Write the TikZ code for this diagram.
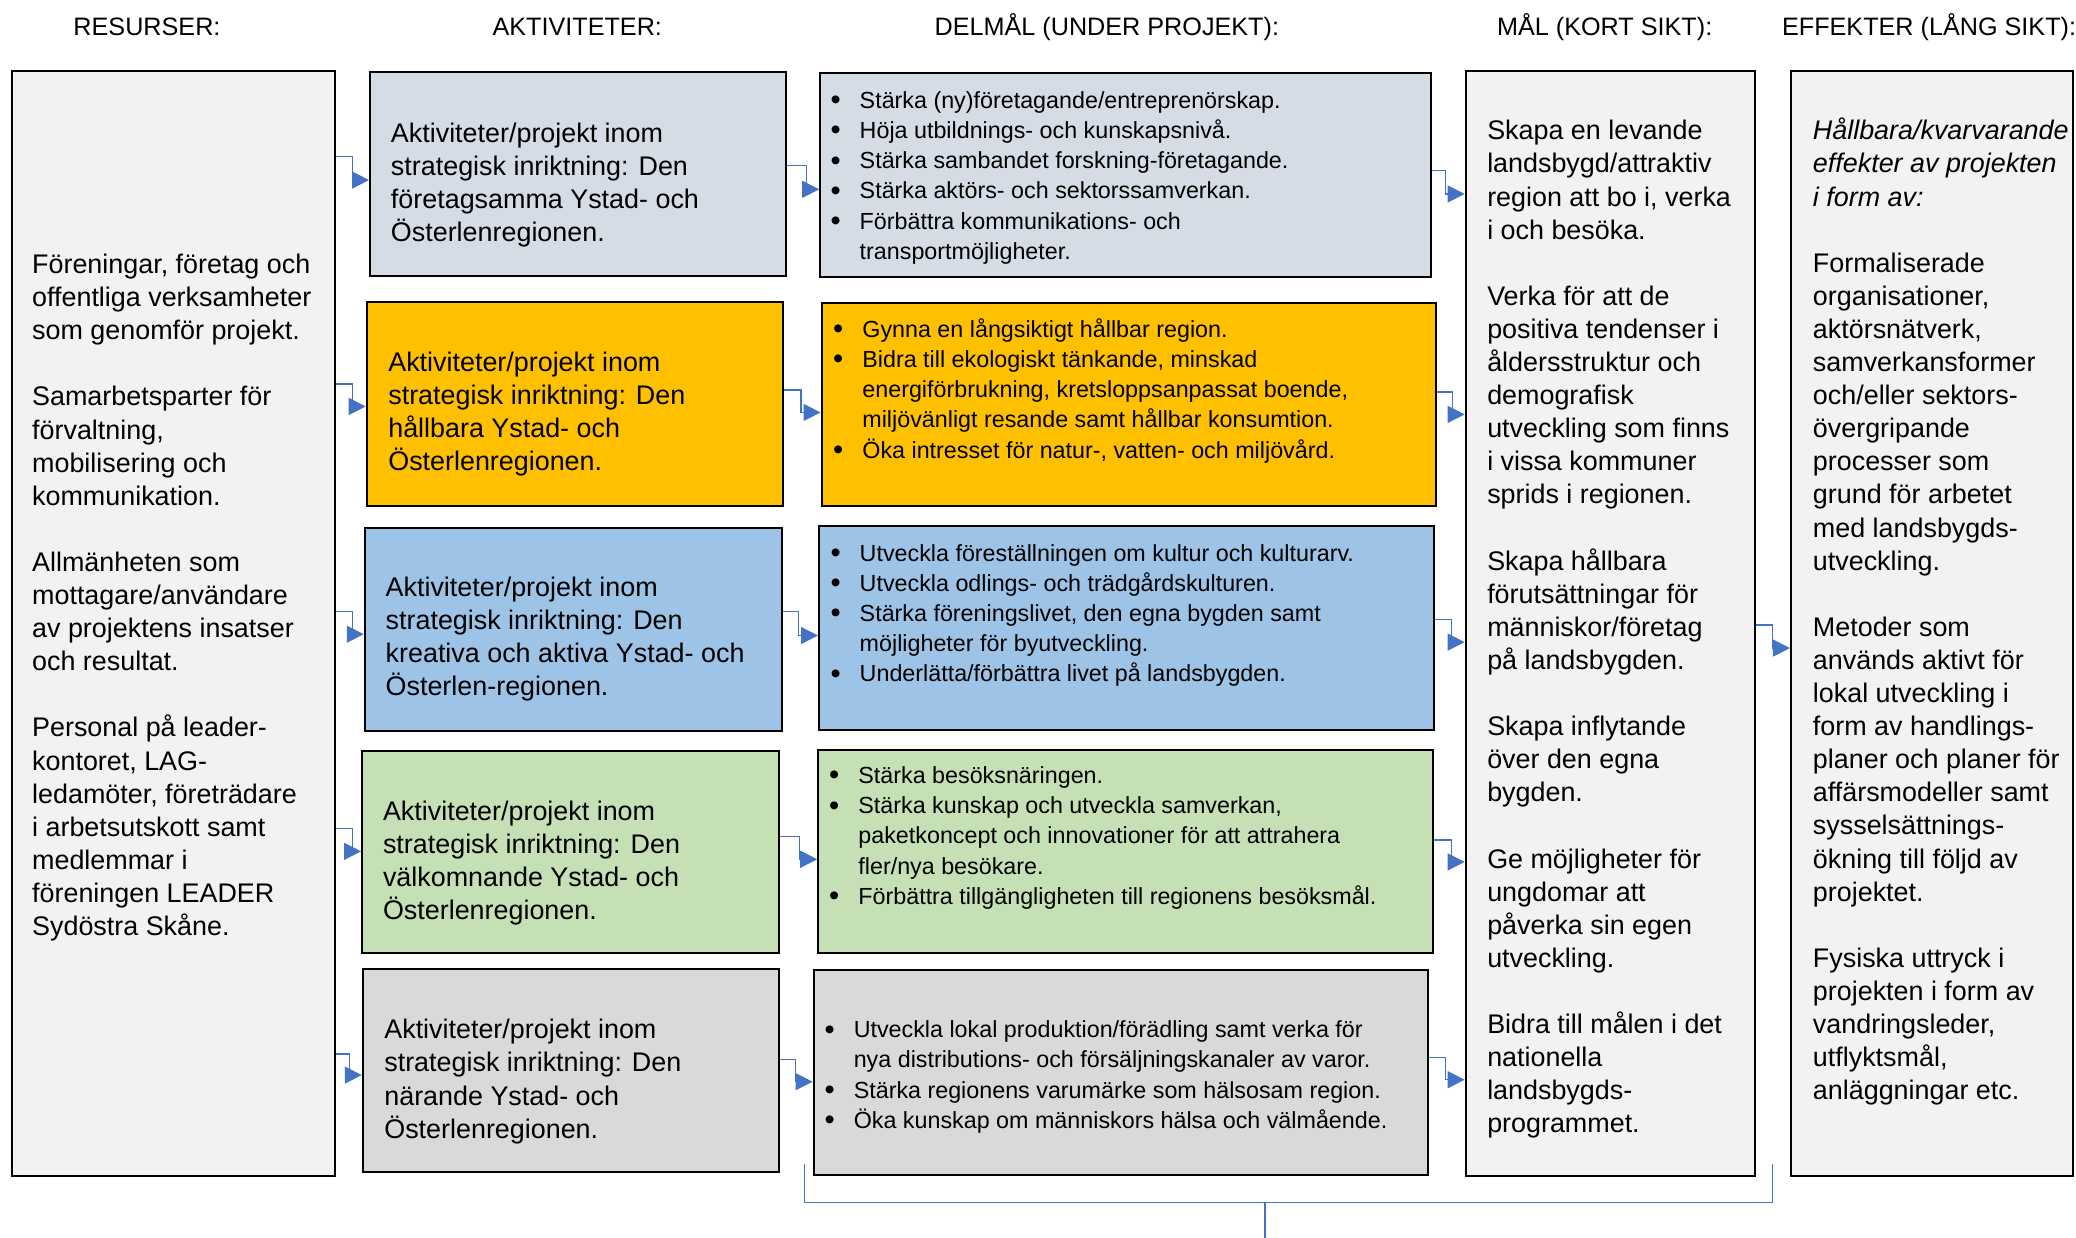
\documentclass[tikz,border=0pt]{standalone}
\usepackage{fontspec}
\setmainfont{Liberation Sans}
\usetikzlibrary{arrows.meta,fit}
\definecolor{boxgray}{HTML}{F2F2F2}
\definecolor{rowa}{HTML}{D6DCE5}
\definecolor{rowb}{HTML}{FFC000}
\definecolor{rowc}{HTML}{9DC3E6}
\definecolor{rowd}{HTML}{C5E0B4}
\definecolor{rowe}{HTML}{D9D9D9}
\definecolor{cblue}{HTML}{4472C4}
\newcommand\bl{\makebox[14.6pt][l]{\raisebox{-0.7pt}{\fontsize{14.5}{0}\selectfont\textbullet}}}
\newcommand\ind{\hspace*{14.6pt}}
\newcommand\conn[5]{\draw[conn] (#1.east |- 0,#2) -| (#3,#4) -- (#5.west |- 0,#4);}
\tikzset{
  box/.style={draw=black, line width=1pt, inner sep=0pt},
  txt/.style={anchor=north west, align=left, inner sep=0pt, font=\fontsize{13.45}{16.55}\selectfont},
  stxt/.style={anchor=north west, align=left, inner sep=0pt, font=\fontsize{11.65}{15.1}\selectfont},
  hdr/.style={anchor=base, inner sep=0pt, font=\fontsize{12.6}{15}\selectfont},
  conn/.style={draw=cblue, line width=0.6pt, -{Triangle[length=8.5pt,width=8.5pt]}},
  brk/.style={draw=cblue, line width=0.6pt},
}
\begin{document}
\begin{tikzpicture}[x=0.662pt,y=-0.662pt]
\useasboundingbox (0,0) rectangle (1568,935);

% headers
\node[hdr] (h1) at (111,27) {RESURSER:};
\node[hdr] (h2) at (436,27) {AKTIVITETER:};
\node[hdr] (h3) at (836,27) {DELMÅL (UNDER PROJEKT):};
\node[hdr] (h4) at (1212,27) {MÅL (KORT SIKT):};
\node[hdr] (h5) at (1457,27) {EFFEKTER (LÅNG SIKT):};

% boxes
\node[box, fill=boxgray, fit={(9,54) (253,888)}] (L) {};
\node[box, fill=rowa, fit={(279.5,54.5) (593.7,208.5)}] (A1) {};
\node[box, fill=rowb, fit={(277,228) (591.2,382)}] (A2) {};
\node[box, fill=rowc, fit={(275.5,398.5) (590.4,552)}] (A3) {};
\node[box, fill=rowd, fit={(273.5,567) (588,720)}] (A4) {};
\node[box, fill=rowe, fit={(274,731.5) (588.6,885)}] (A5) {};
\node[box, fill=rowa, fit={(619.5,55) (1081,209)}] (D1) {};
\node[box, fill=rowb, fit={(620.5,228.6) (1084.6,382.5)}] (D2) {};
\node[box, fill=rowc, fit={(618.6,397.5) (1083,551)}] (D3) {};
\node[box, fill=rowd, fit={(618,566.5) (1082.6,719.5)}] (D4) {};
\node[box, fill=rowe, fit={(614.5,733) (1078.6,887.5)}] (D5) {};
\node[box, fill=boxgray, fit={(1107,53.5) (1325.5,888.5)}] (M) {};
\node[box, fill=boxgray, fit={(1352.7,53.5) (1566,888.5)}] (E) {};

% texts
\node[txt] (Lt) at (24,188.8) {\strut Föreningar, företag och\\ offentliga verksamheter\\ som genomför projekt.\\ \strut\\
Samarbetsparter för\\ förvaltning,\\ mobilisering och\\ kommunikation.\\ \strut\\
Allmänheten som\\ mottagare/användare\\ av projektens insatser\\ och resultat.\\ \strut\\
Personal på leader-\\ kontoret, LAG-\\ ledamöter, företrädare\\ i arbetsutskott samt\\ medlemmar i\\ föreningen LEADER\\ Sydöstra Skåne.};

\node[txt] (A1t) at (295,89.8) {\strut Aktiviteter/projekt inom\\ strategisk inriktning: Den\\ företagsamma Ystad- och\\ Österlenregionen.};
\node[txt] (A2t) at (293,262.8) {\strut Aktiviteter/projekt inom\\ strategisk inriktning: Den\\ hållbara Ystad- och\\ Österlenregionen.};
\node[txt] (A3t) at (291,432.8) {\strut Aktiviteter/projekt inom\\ strategisk inriktning: Den\\ kreativa och aktiva Ystad- och\\ Österlen-regionen.};
\node[txt] (A4t) at (289,601.8) {\strut Aktiviteter/projekt inom\\ strategisk inriktning: Den\\ välkomnande Ystad- och\\ Österlenregionen.};
\node[txt] (A5t) at (290,766.8) {\strut Aktiviteter/projekt inom\\ strategisk inriktning: Den\\ närande Ystad- och\\ Österlenregionen.};

\node[stxt] (D1t) at (627,65.5) {\strut\bl Stärka (ny)företagande/entreprenörskap.\\ \bl Höja utbildnings- och kunskapsnivå.\\ \bl Stärka sambandet forskning-företagande.\\ \bl Stärka aktörs- och sektorssamverkan.\\ \bl Förbättra kommunikations- och\\ \ind transportmöjligheter.};
\node[stxt] (D2t) at (629,238.5) {\strut\bl Gynna en långsiktigt hållbar region.\\ \bl Bidra till ekologiskt tänkande, minskad\\ \ind energiförbrukning, kretsloppsanpassat boende,\\ \ind miljövänligt resande samt hållbar konsumtion.\\ \bl Öka intresset för natur-, vatten- och miljövård.};
\node[stxt] (D3t) at (627,407.5) {\strut\bl Utveckla föreställningen om kultur och kulturarv.\\ \bl Utveckla odlings- och trädgårdskulturen.\\ \bl Stärka föreningslivet, den egna bygden samt\\ \ind möjligheter för byutveckling.\\ \bl Underlätta/förbättra livet på landsbygden.};
\node[stxt] (D4t) at (626,575.5) {\strut\bl Stärka besöksnäringen.\\ \bl Stärka kunskap och utveckla samverkan,\\ \ind paketkoncept och innovationer för att attrahera\\ \ind fler/nya besökare.\\ \bl Förbättra tillgängligheten till regionens besöksmål.};
\node[stxt] (D5t) at (622.5,767.5) {\strut\bl Utveckla lokal produktion/förädling samt verka för\\ \ind nya distributions- och försäljningskanaler av varor.\\ \bl Stärka regionens varumärke som hälsosam region.\\ \bl Öka kunskap om människors hälsa och välmående.};

\node[txt] (Mt) at (1123,87.8) {\strut Skapa en levande\\ landsbygd/attraktiv\\ region att bo i, verka\\ i och besöka.\\ \strut\\
Verka för att de\\ positiva tendenser i\\ åldersstruktur och\\ demografisk\\ utveckling som finns\\ i vissa kommuner\\ sprids i regionen.\\ \strut\\
Skapa hållbara\\ förutsättningar för\\ människor/företag\\ på landsbygden.\\ \strut\\
Skapa inflytande\\ över den egna\\ bygden.\\ \strut\\
Ge möjligheter för\\ ungdomar att\\ påverka sin egen\\ utveckling.\\ \strut\\
Bidra till målen i det\\ nationella\\ landsbygds-\\ programmet.};

\node[txt] (Et) at (1369,87.8) {\strut\textit{Hållbara/kvarvarande}\\ \textit{effekter av projekten}\\ \textit{i form av:}\\ \strut\\
Formaliserade\\ organisationer,\\ aktörsnätverk,\\ samverkansformer\\ och/eller sektors-\\ övergripande\\ processer som\\ grund för arbetet\\ med landsbygds-\\ utveckling.\\ \strut\\
Metoder som\\ används aktivt för\\ lokal utveckling i\\ form av handlings-\\ planer och planer för\\ affärsmodeller samt\\ sysselsättnings-\\ ökning till följd av\\ projektet.\\ \strut\\
Fysiska uttryck i\\ projekten i form av\\ vandringsleder,\\ utflyktsmål,\\ anläggningar etc.};

% connectors
\conn{L}{118}{266}{136}{A1}
\conn{L}{290}{266}{307}{A2}
\conn{L}{462}{266}{479}{A3}
\conn{L}{626}{266}{643}{A4}
\conn{L}{796}{264}{812}{A5}
\conn{A1}{125}{609}{143}{D1}
\conn{A2}{294.5}{605}{311.5}{D2}
\conn{A3}{462}{603}{480}{D3}
\conn{A4}{632}{604}{649}{D4}
\conn{A5}{800}{601}{817}{D5}
\conn{D1}{128.5}{1092}{146.5}{M}
\conn{D2}{296}{1097}{313}{M}
\conn{D3}{468}{1096}{485}{M}
\conn{D4}{634.5}{1096}{651}{M}
\conn{D5}{798.5}{1092}{815.5}{M}
\conn{M}{472}{1338.5}{489.5}{E}

% bottom bracket
\coordinate (brL) at (607.5,879);
\coordinate (brR) at (1338.5,879);
\coordinate (brJ) at (955.5,908);
\coordinate (brB) at (955.5,935);
\draw[brk] (brL) |- (brJ) -| (brR);
\draw[brk] (brJ) -- (brB);
\end{tikzpicture}
\end{document}
